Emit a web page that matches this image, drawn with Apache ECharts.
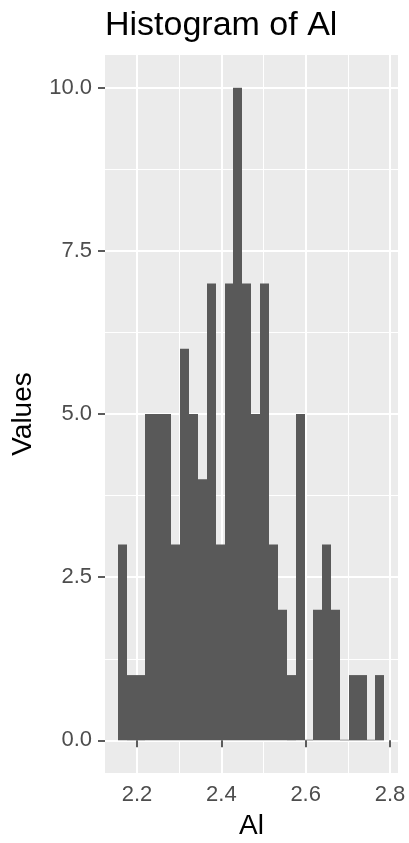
<!DOCTYPE html>
<html>
<head>
<meta charset="utf-8">
<script src="https://cdn.jsdelivr.net/npm/echarts@6/dist/echarts.min.js"></script>
<style>html,body{margin:0;padding:0;background:#fff}#c{width:409px;height:843px}</style>
</head>
<body>
<div id="c"></div>
<script>
const binCenters = [2.166,2.187,2.208,2.229,2.250,2.271,2.292,2.313,2.334,2.355,
  2.376,2.397,2.418,2.439,2.460,2.481,2.502,2.523,2.545,2.566,
  2.587,2.608,2.629,2.650,2.671,2.692,2.713,2.734,2.755,2.776];
const counts = [3,1,1,5,5,5,3,6,5,4,7,3,7,10,7,5,7,3,2,1,5,0,2,3,2,0,1,1,0,1];
const binWidth = 0.02103;
const xTicks = [2.2,2.4,2.6,2.8];
const xMinor = [2.3,2.5,2.7];
const yTicks = [0,2.5,5,7.5,10];
const yMinor = [1.25,3.75,6.25,8.75];
const titleText = 'Histogram of Al';
const xName = 'Al';
const yName = 'Values';

const FONT = '"Liberation Sans", Arial, sans-serif';
const data = binCenters.map((c,i)=>[c-binWidth/2, c+binWidth/2, counts[i]]);
const xMin = 2.124, xMax = 2.819, yMin = -0.5, yMax = 10.5;

const chart = echarts.init(document.getElementById('c'), null, {renderer:'canvas'});
chart.setOption({
  animation:false,
  backgroundColor:'#ffffff',
  title:{text:titleText,left:105,top:9,padding:0,
    textStyle:{fontFamily:FONT,fontSize:34,fontWeight:'normal',color:'#000'}},
  grid:{left:105,right:11,top:55,bottom:70,show:true,backgroundColor:'#EBEBEB',borderWidth:0,
    containLabel:false,outerBoundsMode:'none'},
  xAxis:[{
    type:'value',min:xMin,max:xMax,
    name:xName,nameLocation:'middle',nameGap:39,
    nameTextStyle:{fontFamily:FONT,fontSize:28,color:'#000'},
    axisLine:{show:false},
    axisTick:{show:true,length:7,customValues:xTicks,lineStyle:{color:'#333333',width:1.6}},
    axisLabel:{customValues:xTicks,margin:11,fontFamily:FONT,fontSize:22,color:'#4D4D4D',
      formatter:v=>v.toFixed(1)},
    splitLine:{show:true,lineStyle:{color:'#ffffff',width:2}}
  },{
    type:'value',min:xMin,max:xMax,position:'bottom',
    axisLine:{show:false},
    axisTick:{show:false,customValues:xMinor},
    axisLabel:{show:false,customValues:xMinor},
    splitLine:{show:true,lineStyle:{color:'#ffffff',width:1}}
  }],
  yAxis:[{
    type:'value',min:yMin,max:yMax,
    name:yName,nameLocation:'middle',nameGap:68,nameRotate:90,
    nameTextStyle:{fontFamily:FONT,fontSize:28,color:'#000'},
    axisLine:{show:false},
    axisTick:{show:true,length:7,customValues:yTicks,lineStyle:{color:'#333333',width:1.6}},
    axisLabel:{customValues:yTicks,margin:13,fontFamily:FONT,fontSize:22,color:'#4D4D4D',
      formatter:v=>v.toFixed(1)},
    splitLine:{show:true,lineStyle:{color:'#ffffff',width:2}}
  },{
    type:'value',min:yMin,max:yMax,position:'left',
    axisLine:{show:false},
    axisTick:{show:false,customValues:yMinor},
    axisLabel:{show:false,customValues:yMinor},
    splitLine:{show:true,lineStyle:{color:'#ffffff',width:1}}
  }],
  series:[{
    type:'custom',
    xAxisIndex:0,yAxisIndex:0,
    data:data,
    renderItem:function(params,api){
      const p0 = api.coord([api.value(0),0]);
      const p1 = api.coord([api.value(1),api.value(2)]);
      const x0 = Math.round(p0[0]), x1 = Math.round(p1[0]);
      const h = Math.max(p0[1]-p1[1],0.6);
      return {type:'rect',shape:{x:x0,y:p0[1]-h,width:x1-x0,height:h},
        style:{fill:'#595959'}};
    }
  }]
});
</script>
</body>
</html>
